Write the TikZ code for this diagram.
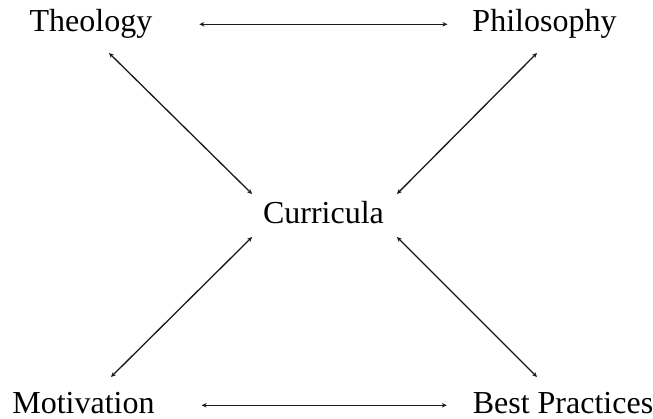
\documentclass[tikz,border=0pt]{standalone}
\usepackage{fontspec}
\setmainfont{Liberation Serif}
\usetikzlibrary{arrows.meta,positioning}

\begin{document}
\begin{tikzpicture}[x=1pt,y=-1pt]
\tikzset{
  conceptnode/.style={inner sep=0pt,outer sep=0pt,anchor=base,text height=22.4pt,text depth=7pt,font=\fontsize{32}{38}\selectfont},
  linkedge/.style={draw=black!90,line width=1.3pt,line cap=round},
  bidir/.style={linkedge,{Stealth[length=5pt,width=4.5pt]}-{Stealth[length=5pt,width=4.5pt]}}
}
\useasboundingbox (0,0) rectangle (653,419);
\node[conceptnode] (n_theo) at (91,32) {Theology};
\node[conceptnode] (n_phil) at (544.5,32) {Philosophy};
\node[conceptnode] (n_curr) at (323.5,224) {Curricula};
\node[conceptnode] (n_moti) at (83.5,413) {Motivation};
\node[conceptnode] (n_best) at (563,413) {Best Practices};
\draw[bidir,shorten <=47pt,shorten >=25pt] (n_theo.east) -- (n_phil.west);
\draw[bidir,shorten <=47pt,shorten >=26pt] (n_moti.east) -- (n_best.west);
\draw[bidir] ([xshift=18pt,yshift=-14pt]n_theo.south) -- ([xshift=-11pt,yshift=7.6pt]n_curr.north west);
\draw[bidir] ([xshift=-7.5pt,yshift=-14pt]n_phil.south) -- ([xshift=13pt,yshift=7.6pt]n_curr.north east);
\draw[bidir] ([xshift=27.5pt,yshift=13.6pt]n_moti.north) -- ([xshift=-11pt,yshift=-6pt]n_curr.south west);
\draw[bidir] ([xshift=-26pt,yshift=13.6pt]n_best.north) -- ([xshift=13pt,yshift=-6pt]n_curr.south east);
\end{tikzpicture}
\end{document}
